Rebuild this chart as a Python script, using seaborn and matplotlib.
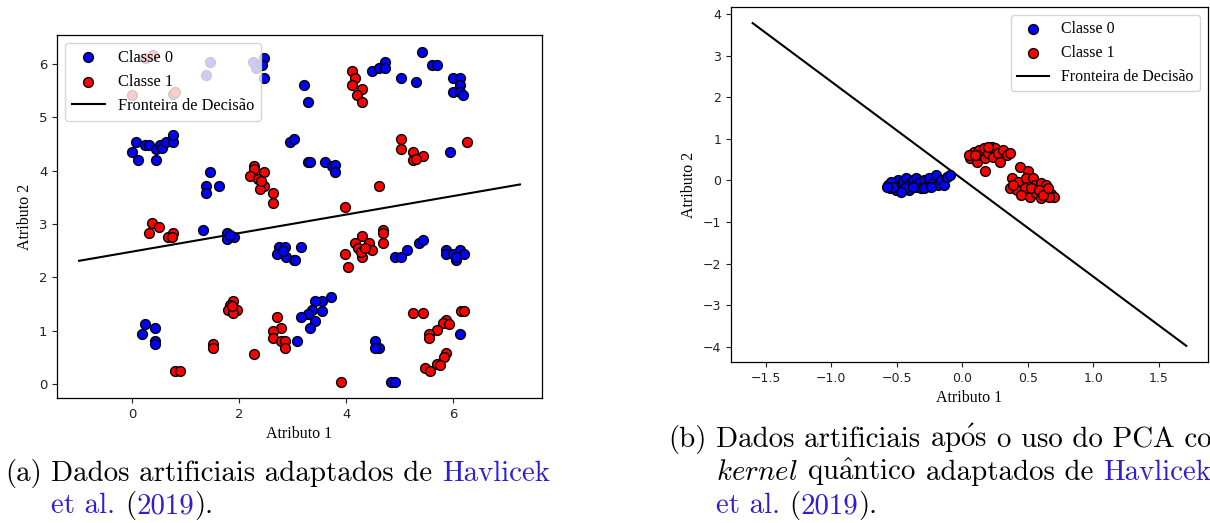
import matplotlib
matplotlib.use("Agg")
import matplotlib.pyplot as plt
import numpy as np
import pandas as pd
import seaborn as sns

plt.rcParams["mathtext.fontset"] = "cm"

# ---------------- (a) original artificial dataset ----------------
a_class0_x = [1.45, 1.37, 2.26, 2.32, 2.46, 2.42, 2.46, 3.21, 3.28,
              4.48, 4.61, 4.73, 4.73, 5.03, 5.30, 5.42, 5.61, 5.69,
              5.99, 6.12, 6.12, 5.99, 6.12, 6.19,
              0.06, 0.00, 0.11, 0.23, 0.31, 0.44, 0.44, 0.52, 0.56, 0.62, 0.76, 0.75,
              2.95, 3.02, 1.45, 1.37, 1.37, 1.62,
              3.28, 3.33, 3.60, 3.73, 3.78, 3.78, 5.94,
              1.31, 1.76, 1.76, 1.90, 1.82,
              2.75, 2.85, 2.70, 2.88, 3.02, 2.82, 3.15, 3.05,
              4.91, 5.03, 5.13, 5.37, 5.44,
              5.87, 5.87, 6.00, 6.12, 6.20, 6.06, 6.06,
              0.23, 0.17, 0.43, 0.43, 0.43,
              3.72, 3.55, 3.42, 3.35, 3.55, 3.28, 3.15, 3.41, 3.33, 3.08,
              4.54, 4.61, 4.54, 4.84, 4.91, 6.12]
a_class0_y = [6.04, 5.79, 6.04, 5.92, 6.10, 5.97, 5.73, 5.60, 5.29,
              5.87, 5.92, 6.04, 5.92, 5.73, 5.66, 6.23, 5.98, 5.98,
              5.73, 5.73, 5.60, 5.48, 5.48, 5.42,
              4.54, 4.34, 4.20, 4.47, 4.47, 4.41, 4.20, 4.47, 4.42, 4.53, 4.54, 4.66,
              4.54, 4.59, 3.97, 3.72, 3.58, 3.72,
              4.16, 4.16, 4.16, 4.09, 4.11, 3.97, 4.34,
              2.89, 2.83, 2.72, 2.76, 2.80,
              2.57, 2.57, 2.44, 2.39, 2.33, 2.49, 2.57, 2.33,
              2.39, 2.39, 2.51, 2.64, 2.70,
              2.51, 2.44, 2.44, 2.51, 2.44, 2.33, 2.39,
              1.12, 0.94, 1.06, 0.81, 0.75,
              1.64, 1.56, 1.56, 1.39, 1.37, 1.31, 1.25, 1.19, 1.06, 0.81,
              0.81, 0.67, 0.67, 0.05, 0.05, 0.94]

a_class1_x = [0.23, 0.39, 0.00, 0.76, 0.79,
              4.11, 4.16, 4.11, 4.29, 4.21, 4.29,
              2.27, 2.28, 2.46, 2.20, 2.35, 2.46, 2.39, 2.40, 2.63, 2.63,
              5.03, 5.03, 5.25, 5.44, 5.25, 5.31, 6.26, 4.61, 3.98,
              0.37, 0.50, 0.31, 0.67, 0.75, 0.74,
              4.68, 4.68, 4.68, 4.29, 4.16, 4.22, 4.42, 4.48, 4.29, 4.28, 3.98, 4.03, 4.35,
              1.89, 1.83, 1.79, 1.95, 1.89, 1.86,
              1.51, 1.51, 2.27, 0.79, 0.89,
              2.71, 2.77, 2.63, 2.63, 2.77, 2.85, 2.85, 3.91,
              5.25, 5.44, 6.14, 6.20, 5.87, 5.81, 5.93, 5.69, 5.55, 5.55,
              5.87, 5.83, 5.69, 5.75, 5.48, 5.56]
a_class1_y = [6.10, 6.17, 5.42, 5.43, 5.47,
              5.87, 5.74, 5.60, 5.53, 5.42, 5.29,
              4.09, 4.03, 3.97, 3.89, 3.84, 3.72, 3.66, 3.80, 3.58, 3.39,
              4.59, 4.41, 4.34, 4.28, 4.20, 4.22, 4.54, 3.71, 3.32,
              3.01, 2.95, 2.83, 2.76, 2.83, 2.76,
              2.89, 2.83, 2.64, 2.78, 2.64, 2.55, 2.64, 2.51, 2.39, 2.48, 2.44, 2.20, 2.55,
              1.55, 1.49, 1.39, 1.39, 1.33, 1.46,
              0.75, 0.67, 0.56, 0.24, 0.24,
              1.25, 1.06, 1.00, 0.86, 0.81, 0.81, 0.67, 0.05,
              1.33, 1.33, 1.37, 1.37, 1.20, 1.14, 1.12, 1.02, 0.94, 0.87,
              0.58, 0.50, 0.37, 0.36, 0.31, 0.24]

a_boundary_x = [-1.00, 7.25]
a_boundary_y = [2.31, 3.74]

# ---------------- (b) after quantum-kernel PCA ----------------
b_class0_x = [-0.566, -0.554, -0.516, -0.490, -0.480, -0.466, -0.453, -0.428, -0.415,
              -0.403, -0.378, -0.353, -0.353, -0.328, -0.315, -0.290, -0.265, -0.252,
              -0.227, -0.202, -0.189, -0.164, -0.139, -0.114, -0.095, -0.503, -0.541,
              -0.440, -0.378, -0.290, -0.240, -0.466, -0.528, -0.578]
b_class0_y = [-0.11, -0.19, -0.07, 0.01, -0.15, -0.23, -0.03, 0.05, -0.11,
              -0.23, 0.01, 0.05, -0.15, -0.07, -0.19, 0.01, -0.11, 0.05,
              -0.07, 0.13, -0.11, 0.01, -0.11, 0.09, 0.14, -0.23, -0.03,
              -0.19, -0.15, -0.19, -0.15, -0.27, -0.15, -0.15]

b_class1_x = [0.062, 0.087, 0.112, 0.124, 0.137, 0.162, 0.175, 0.175, 0.200, 0.225,
              0.237, 0.250, 0.275, 0.288, 0.313, 0.338, 0.363, 0.049, 0.100, 0.200,
              0.439, 0.500, 0.376, 0.426, 0.489, 0.539, 0.363, 0.414, 0.476, 0.552,
              0.602, 0.640, 0.451, 0.514, 0.564, 0.627, 0.677, 0.702, 0.602, 0.527,
              0.589, 0.664, 0.388, 0.614, 0.652]
b_class1_y = [0.53, 0.69, 0.45, 0.73, 0.61, 0.77, 0.53, 0.22, 0.65, 0.81,
              0.57, 0.77, 0.65, 0.45, 0.73, 0.61, 0.65, 0.61, 0.61, 0.81,
              0.33, 0.22, 0.05, -0.03, 0.05, 0.05, -0.19, -0.23, -0.18, -0.11,
              -0.07, -0.11, -0.35, -0.39, -0.31, -0.27, -0.34, -0.39, -0.43, -0.19,
              -0.23, -0.39, -0.11, -0.35, -0.19]

b_boundary_x = [-1.60, 1.71]
b_boundary_y = [3.78, -3.98]

class_labels = ["Classe 0", "Classe 1"]
boundary_label = "Fronteira de Decisão"
axis_x_label = "Atributo 1"
axis_y_label = "Atributo 2"

W, H = 1210, 523
fig = plt.figure(figsize=(W / 100, H / 100), dpi=100)
ax_a = fig.add_axes([57 / W, 1 - 398 / H, (542 - 57) / W, (398 - 35) / H])
ax_b = fig.add_axes([731 / W, 1 - 362 / H, (1208 - 731) / W, (362 - 7) / H])

serif = "Liberation Serif"


def draw_panel(ax, c0x, c0y, c1x, c1y, bx, by, legend_loc, tick_size, legend_size):
    sns.lineplot(x=bx, y=by, ax=ax, color="black", linewidth=1.5,
                 label=boundary_label, zorder=1)
    sns.scatterplot(x=c0x, y=c0y, ax=ax, color="blue", edgecolor="black",
                    linewidth=1.0, s=50, label=class_labels[0], zorder=3)
    sns.scatterplot(x=c1x, y=c1y, ax=ax, color="red", edgecolor="black",
                    linewidth=1.0, s=50, label=class_labels[1], zorder=3)
    handles, labels = ax.get_legend_handles_labels()
    order = [labels.index(class_labels[0]), labels.index(class_labels[1]),
             labels.index(boundary_label)]
    ax.legend([handles[i] for i in order], [labels[i] for i in order],
              loc=legend_loc, prop={"family": serif, "size": legend_size})
    ax.set_xlabel(axis_x_label, family=serif, fontsize=11.5)
    ax.set_ylabel(axis_y_label, family=serif, fontsize=11.5)
    ax.tick_params(labelsize=tick_size, colors="#222222")
    for sp in ax.spines.values():
        sp.set_linewidth(0.9)


draw_panel(ax_a, a_class0_x, a_class0_y, a_class1_x, a_class1_y,
           a_boundary_x, a_boundary_y, "upper left", 9.5, 11.8)
draw_panel(ax_b, b_class0_x, b_class0_y, b_class1_x, b_class1_y,
           b_boundary_x, b_boundary_y, "upper right", 9.0, 11.4)

# ---------------- sub-captions ----------------
CAP_SIZE = 20.8
LINK = "#2f1dd2"
cap_roman = {"family": ["cmr10", "DejaVu Serif"]}
fig.canvas.draw()
renderer = fig.canvas.get_renderer()


def text_width(s, **kw):
    t = fig.text(0, 0, s, fontsize=CAP_SIZE, **kw)
    w = t.get_window_extent(renderer).width
    t.remove()
    return w


space_w = text_width("n n", **cap_roman) - text_width("nn", **cap_roman)


def put_line(x_px, base_px, parts):
    """parts: (text, color, space_before); returns start x of each part."""
    x = x_px
    starts = []
    for text, color, gap in parts:
        if gap:
            x += space_w
        starts.append(x)
        kw = {} if text.startswith("$") else cap_roman
        t = fig.text(x / W, base_px / H, text, color=color, fontsize=CAP_SIZE,
                     ha="left", va="baseline", **kw)
        x = t.get_window_extent(renderer).x1
    return starts


def to_base(y_top_px):
    return H - y_top_px


# (a)
st = put_line(5, to_base(481), [("(a)", "black", False),
                                ("Dados artificiais adaptados de", "black", True),
                                ("Havlicek", LINK, True)])
put_line(st[1], to_base(513), [("et al.", LINK, False),
                               ("(", "black", True),
                               ("2019", LINK, False),
                               (").", "black", False)])

# (b)
st = put_line(668, to_base(447), [("(b)", "black", False),
                                  ("Dados artificiais", "black", True),
                                  (r"$\mathrm{ap\acute{o}s}$", "black", True),
                                  ("o uso do PCA com", "black", True)])
put_line(st[1], to_base(480), [(r"$kernel$", "black", False),
                               (r"$\mathrm{qu\hat{a}ntico}$", "black", True),
                               ("adaptados de", "black", True),
                               ("Havlicek", LINK, True)])
put_line(st[1], to_base(513), [("et al.", LINK, False),
                               ("(", "black", True),
                               ("2019", LINK, False),
                               (").", "black", False)])

fig.savefig("out.png", dpi=100)
